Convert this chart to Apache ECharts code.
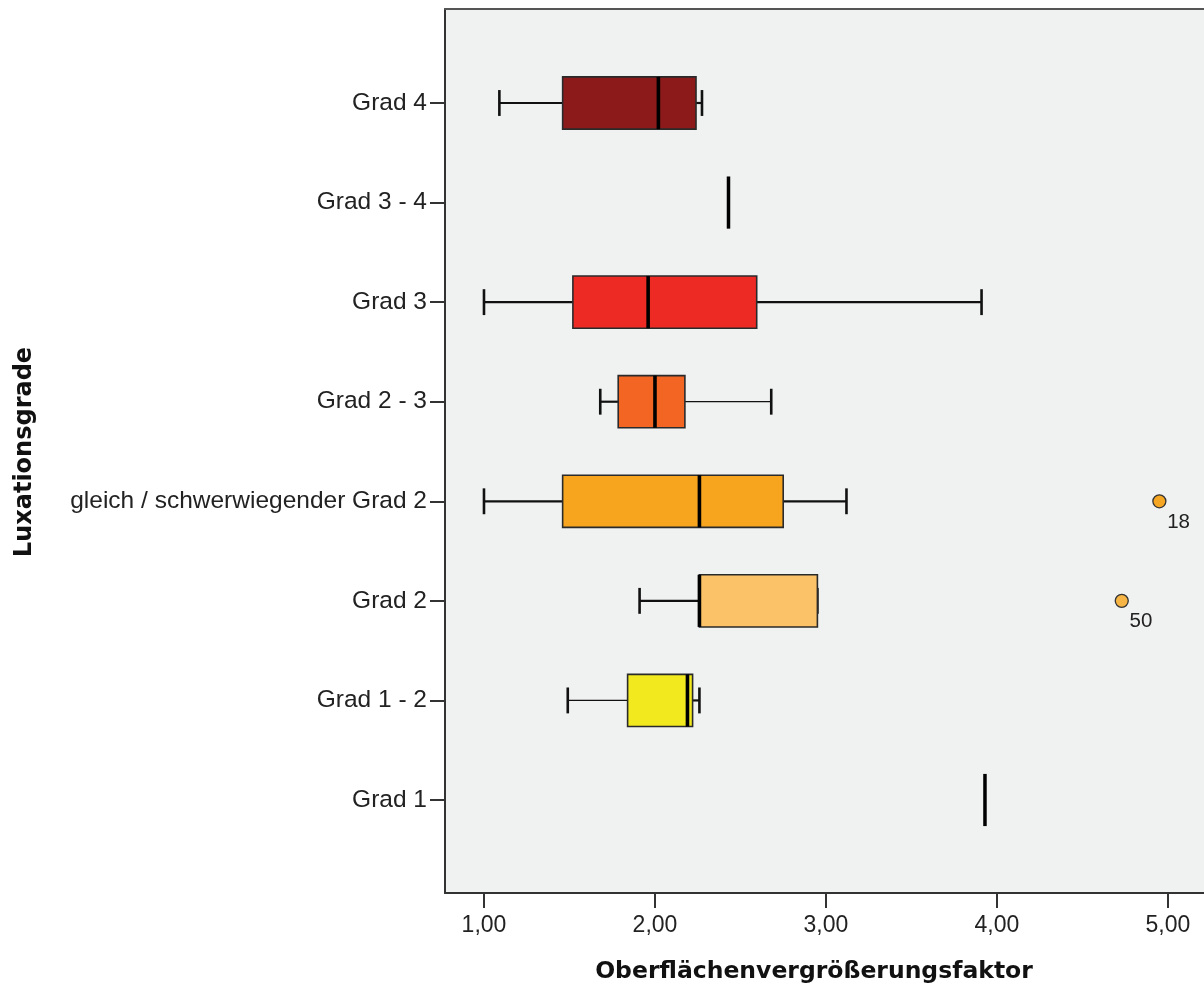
<!DOCTYPE html>
<html>
<head>
<meta charset="utf-8">
<script src="https://cdn.jsdelivr.net/npm/echarts@6/dist/echarts.min.js"></script>
<style>
html,body{margin:0;padding:0;background:#fff;}
#chart{width:1204px;height:990px;}
</style>
</head>
<body>
<div id="chart"></div>
<script>
// Categories bottom (index 0) to top (index 7)
const categories = ['Grad 1', 'Grad 1 - 2', 'Grad 2', 'gleich / schwerwiegender Grad 2', 'Grad 2 - 3', 'Grad 3', 'Grad 3 - 4', 'Grad 4'];
const whiskerLow  = [3.93, 1.49, 1.91, 1.00, 1.68, 1.00, 2.43, 1.09];
const q1          = [3.93, 1.84, 2.26, 1.46, 1.785, 1.52, 2.43, 1.46];
const median      = [3.93, 2.19, 2.26, 2.26, 2.00, 1.96, 2.43, 2.02];
const q3          = [3.93, 2.22, 2.95, 2.75, 2.175, 2.595, 2.43, 2.24];
const whiskerHigh = [3.93, 2.26, 2.95, 3.12, 2.68, 3.91, 2.43, 2.275];
const boxColors   = [null, '#F2EA1F', '#FCC267', '#F7A51E', '#F26522', '#EE2A24', null, '#8C1A1B'];

const outlierCategory = [3, 2];
const outlierValue    = [4.95, 4.73];
const outlierLabel    = ['18', '50'];
const outlierColors   = ['#F5A623', '#F7B545'];

const xTicks = [1, 2, 3, 4, 5];
const yTicks = [0, 1, 2, 3, 4, 5, 6, 7];

const boxData = categories.map((c, i) => [i, whiskerLow[i], q1[i], median[i], q3[i], whiskerHigh[i]]);
const outlierData = outlierCategory.map((c, i) => ({
  value: [outlierValue[i], c],
  label: outlierLabel[i],
  itemStyle: { color: outlierColors[i] }
}));

function renderBox(params, api) {
  const idx = api.value(0);
  const lo = api.value(1), a = api.value(2), m = api.value(3), b = api.value(4), hi = api.value(5);
  const band = api.size([0, 1])[1];
  const half = band * 0.262;
  const capHalf = band * 0.13;
  const pLo = api.coord([lo, idx]);
  const pA = api.coord([a, idx]);
  const pM = api.coord([m, idx]);
  const pB = api.coord([b, idx]);
  const pHi = api.coord([hi, idx]);
  const y = pLo[1];
  const children = [];
  const stroke = '#111';
  if (lo === hi) {
    children.push({ type: 'line', shape: { x1: pM[0], y1: y - half, x2: pM[0], y2: y + half },
      style: { stroke: '#000', lineWidth: 3.5 } });
    return { type: 'group', children };
  }
  children.push({ type: 'line', shape: { x1: pLo[0], y1: y, x2: pA[0], y2: y },
    style: { stroke: stroke, lineWidth: idx === 1 ? 1.3 : 2.2 } });
  children.push({ type: 'line', shape: { x1: pB[0], y1: y, x2: pHi[0], y2: y },
    style: { stroke: stroke, lineWidth: idx === 4 ? 1.3 : 2.2 } });
  children.push({ type: 'line', shape: { x1: pLo[0], y1: y - capHalf, x2: pLo[0], y2: y + capHalf },
    style: { stroke: stroke, lineWidth: 2.6 } });
  children.push({ type: 'line', shape: { x1: pHi[0], y1: y - capHalf, x2: pHi[0], y2: y + capHalf },
    style: { stroke: stroke, lineWidth: 2.6 } });
  children.push({ type: 'rect', shape: { x: pA[0], y: y - half, width: pB[0] - pA[0], height: 2 * half },
    style: { fill: boxColors[idx], stroke: '#2a2a2a', lineWidth: 1.6 } });
  children.push({ type: 'line', shape: { x1: pM[0], y1: y - half, x2: pM[0], y2: y + half },
    style: { stroke: '#000', lineWidth: 3.6 } });
  return { type: 'group', children };
}

const chart = echarts.init(document.getElementById('chart'), null, { renderer: 'canvas' });
chart.setOption({
  animation: false,
  backgroundColor: '#ffffff',
  grid: {
    show: true, left: 445, top: 9, right: 0, height: 884,
    backgroundColor: '#F0F1F1', borderWidth: 0
  },
  xAxis: [{
    type: 'value', min: 0.772, max: 5.211,
    splitLine: { show: false },
    axisLine: { show: true, onZero: false, lineStyle: { color: '#333', width: 2 } },
    axisTick: { show: true, length: 15, customValues: xTicks, lineStyle: { color: '#333', width: 2 } },
    axisLabel: {
      customValues: xTicks, margin: 21,
      fontFamily: 'Liberation Sans', fontSize: 23, color: '#222',
      formatter: v => v.toFixed(2).replace('.', ',')
    }
  }, {
    type: 'value', position: 'top', min: 0.772, max: 5.211,
    splitLine: { show: false },
    axisLine: { show: true, onZero: false, lineStyle: { color: '#555', width: 2 } },
    axisTick: { show: false },
    axisLabel: { show: false }
  }],
  yAxis: {
    type: 'value', min: -0.934, max: 7.944,
    splitLine: { show: false },
    axisLine: { show: true, onZero: false, lineStyle: { color: '#333', width: 2 } },
    axisTick: { show: true, length: 15, customValues: yTicks, lineStyle: { color: '#333', width: 2 } },
    axisLabel: {
      customValues: yTicks, margin: 18,
      fontFamily: 'Liberation Sans', fontSize: 24.5, color: '#222',
      formatter: v => categories[Math.round(v)]
    }
  },
  graphic: [
    { type: 'text', x: 814, y: 972, style: { text: 'Oberflächenvergrößerungsfaktor', fontFamily: 'DejaVu Sans', fontWeight: 'bold', fontSize: 23.5, fill: '#111', align: 'center', verticalAlign: 'middle' } },
    { type: 'text', x: 25, y: 452, rotation: Math.PI / 2, style: { text: 'Luxationsgrade', fontFamily: 'DejaVu Sans', fontWeight: 'bold', fontSize: 24, fill: '#111', align: 'center', verticalAlign: 'middle' } }
  ],
  series: [
    {
      type: 'custom',
      renderItem: renderBox,
      encode: { x: [1, 2, 3, 4, 5], y: 0 },
      data: boxData,
      z: 3
    },
    {
      type: 'scatter',
      data: outlierData,
      symbol: 'circle',
      symbolSize: 13,
      itemStyle: { borderColor: '#333', borderWidth: 1.3, opacity: 1 },
      label: {
        show: true,
        formatter: p => p.data.label,
        position: [15, 28],
        align: 'left', verticalAlign: 'middle',
        fontFamily: 'Liberation Sans', fontSize: 20.5, color: '#222'
      },
      z: 4
    }
  ]
});
</script>
</body>
</html>
